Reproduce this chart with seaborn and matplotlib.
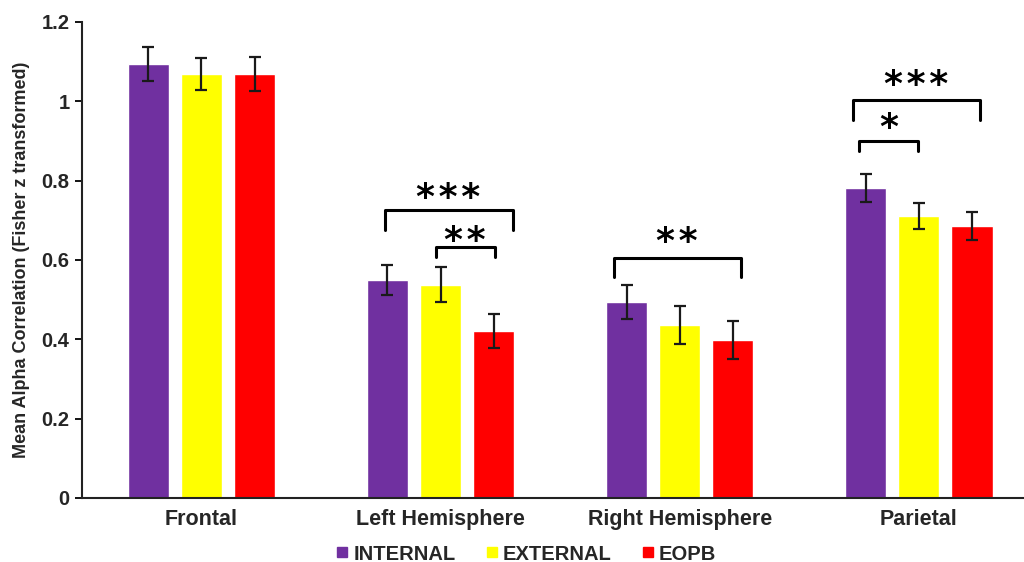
import matplotlib
matplotlib.use("Agg")
import matplotlib.pyplot as plt
import seaborn as sns
import pandas as pd
import numpy as np

regions = ["Frontal", "Left Hemisphere", "Right Hemisphere", "Parietal"]
conditions = ["INTERNAL", "EXTERNAL", "EOPB"]
internal = [1.094, 0.550, 0.494, 0.781]
external = [1.069, 0.537, 0.436, 0.711]
eopb = [1.069, 0.421, 0.398, 0.686]
internal_err = [0.044, 0.038, 0.043, 0.035]
external_err = [0.040, 0.044, 0.047, 0.032]
eopb_err = [0.042, 0.043, 0.048, 0.035]
colors = ["#7030A0", "#FFFF00", "#FF0000"]
yticks = [0, 0.2, 0.4, 0.6, 0.8, 1.0, 1.2]
ytick_labels = ["0", "0.2", "0.4", "0.6", "0.8", "1", "1.2"]

# significance brackets: (x_start, x_end, y_top, y_tip, star_y, label)
brackets = [
    (0.766, 1.301, 0.726, 0.676, 0.765, "\u200a".join("***")),
    (0.979, 1.226, 0.633, 0.607, 0.656, "\u200a".join("**")),
    (1.724, 2.255, 0.605, 0.557, 0.654, "\u200a".join("**")),
    (2.724, 3.255, 1.003, 0.953, 1.051, "\u200a".join("***")),
    (2.749, 2.996, 0.900, 0.875, 0.942, "*"),
]

values = {"INTERNAL": internal, "EXTERNAL": external, "EOPB": eopb}
errs = {"INTERNAL": internal_err, "EXTERNAL": external_err, "EOPB": eopb_err}
rows = []
for c in conditions:
    for r, v, e in zip(regions, values[c], errs[c]):
        rows.append({"Region": r, "Condition": c, "Value": v, "Err": e})
df = pd.DataFrame(rows)

sns.set_style("white")
plt.rcParams["font.family"] = ["Liberation Sans", "DejaVu Sans"]

fig = plt.figure(figsize=(10.24, 5.62), dpi=100)
ax = fig.add_axes([0.080, 0.114, 0.920, 0.847])

sns.barplot(data=df, x="Region", y="Value", hue="Condition", order=regions,
            hue_order=conditions, palette=colors, errorbar=None, width=0.667,
            gap=0.225, saturation=1, legend=False, ax=ax)

for h, c in enumerate(conditions):
    cont = ax.containers[h]
    for i, bar in enumerate(cont):
        x = bar.get_x() + bar.get_width() / 2
        ax.errorbar(x, values[c][i], yerr=errs[c][i], color="#1a1a1a",
                    capsize=4, elinewidth=1.6, capthick=1.6, fmt="none", zorder=5)

for x0, x1, yt, yb, ys, lab in brackets:
    ax.plot([x0, x0, x1, x1], [yb, yt, yt, yb], color="black", lw=2.2,
            solid_joinstyle="round", solid_capstyle="round", zorder=6)
    ax.text((x0 + x1) / 2, ys, lab, ha="center", va="center_baseline",
            fontsize=26, fontweight="semibold", color="black",
            family=["DejaVu Sans"])

ax.set_xlim(-0.5, 3.44)
ax.set_ylim(0, 1.2)
ax.set_yticks(yticks)
ax.set_yticklabels(ytick_labels, fontsize=14.5, fontweight="bold")
ax.tick_params(axis="y", which="both", direction="out", length=5, width=1.3,
               color="black", left=True, pad=4)
ax.tick_params(axis="x", length=0, pad=8)
for lbl in ax.get_xticklabels():
    lbl.set_fontsize(15.5)
    lbl.set_fontweight("bold")
ax.set_xlabel("")
ax.set_ylabel("Mean Alpha Correlation (Fisher z transformed)", fontsize=13,
              fontweight="bold", labelpad=8)
for s in ["top", "right"]:
    ax.spines[s].set_visible(False)
for s in ["left", "bottom"]:
    ax.spines[s].set_color("#222222")
    ax.spines[s].set_linewidth(1.5)

handles = [plt.Line2D([], [], marker="s", linestyle="none", markersize=7,
                      markerfacecolor=col, markeredgecolor=col) for col in colors]
leg = fig.legend(handles, conditions, loc="center",
                 bbox_to_anchor=(0.512, 1 - 554 / 562),
                 ncol=3, frameon=False, handletextpad=0.05, columnspacing=1.3,
                 handlelength=1.0, prop={"weight": "bold", "size": 14.5})

fig.savefig("out.png", dpi=100)
